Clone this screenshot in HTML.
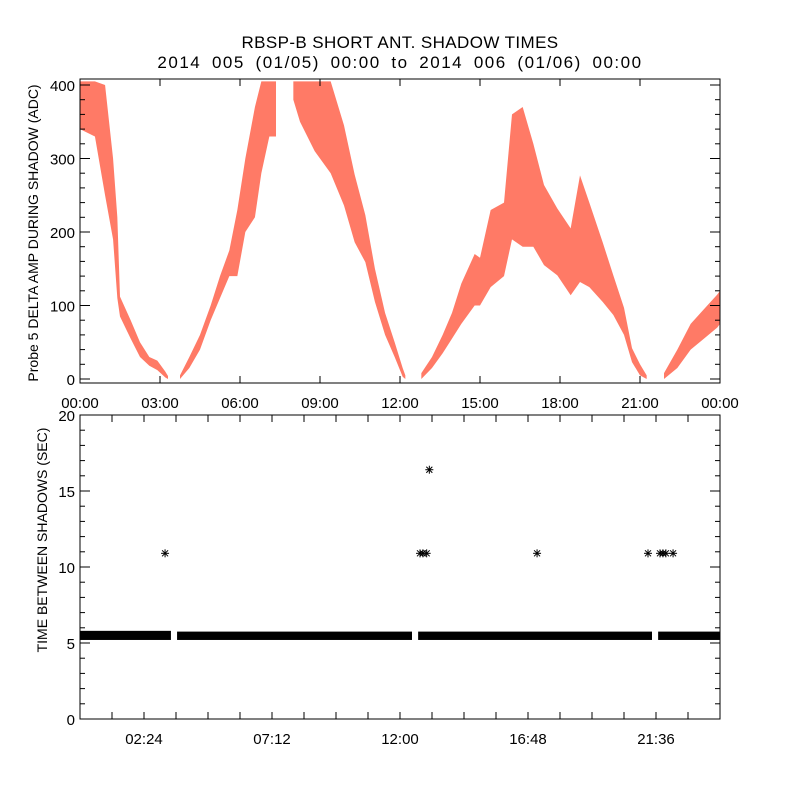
<!DOCTYPE html>
<html><head><meta charset="utf-8"><style>
body{margin:0;background:#fff}
svg{display:block;font-family:"Liberation Sans",sans-serif}
</style></head><body>
<svg id="c" width="800" height="800" xmlns="http://www.w3.org/2000/svg">
<rect width="800" height="800" fill="#fff"/>
<text x="400" y="48" font-size="17" letter-spacing="0.4" text-anchor="middle">RBSP-B SHORT ANT. SHADOW TIMES</text>
<text x="400" y="68" font-size="17" letter-spacing="1.5" word-spacing="4.5" text-anchor="middle">2014 005 (01/05) 00:00 to 2014 006 (01/06) 00:00</text>
<g id="top"></g>
<g id="bot"></g>
</svg>
<script>
// top panel data: bands [hour, low ADC, high ADC]
const band1 = [[0,340,405],[0.56,330,405],[0.94,250,400],[1.24,190,300],[1.4,110,220],[1.5,85,112],[1.9,55,80],[2.25,30,50],[2.6,18,30],[2.9,12,25],[3.2,2,10],[3.3,0,4]];
const band2 = [[3.75,0,5],[4.1,15,30],[4.5,40,60],[4.9,80,100],[5.25,110,140],[5.6,140,175],[5.9,140,230],[6.2,200,300],[6.56,220,370],[6.8,280,405],[7.1,330,405],[7.35,330,405]];
const band3 = [[8.0,380,405],[8.25,350,405],[8.8,310,405],[9.4,280,405],[9.9,236,345],[10.3,186,278],[10.7,159,223],[11.06,105,150],[11.44,60,90],[11.8,30,50],[12.1,3,15],[12.2,0,5]];
const band4 = [[12.8,0,8],[13.2,15,30],[13.6,35,60],[13.95,55,90],[14.3,75,130],[14.8,100,170],[15.0,100,165],[15.4,125,230],[15.9,140,240],[16.2,190,360],[16.6,180,370],[17.0,180,320],[17.4,155,264],[17.9,141,232],[18.4,114,205],[18.75,132,277],[19.1,125,240],[19.6,105,186],[20.0,87,141],[20.4,60,97],[20.7,23,42],[21.0,5,20],[21.25,0,5]];
const band5 = [[21.9,0,8],[22.4,15,40],[22.9,40,75],[23.4,55,95],[23.9,70,115],[24,75,120]];
const topYTicks = [0,100,200,300,400];
const topXLabels = ["00:00","03:00","06:00","09:00","12:00","15:00","18:00","21:00","00:00"];
// bottom panel data
const bandSegments = [[0,3.41],[3.64,12.45],[12.68,21.45],[21.68,24]];
const bandLow = [5.2,5.2,5.2,5.2];
const bandHigh = [5.8,5.75,5.75,5.75];
const starTimes = [3.19,12.75,12.86,13.0,13.1,17.14,21.3,21.75,21.86,21.97,22.24];
const starValues = [10.9,10.9,10.9,10.9,16.4,10.9,10.9,10.9,10.9,10.9,10.9];
const botYTicks = [0,5,10,15,20];
const botXLabels = ["02:24","07:12","12:00","16:48","21:36"];

const NS="http://www.w3.org/2000/svg";
function mk(tag,attrs,parent){const e=document.createElementNS(NS,tag);for(const k in attrs)e.setAttribute(k,attrs[k]);parent.appendChild(e);return e;}
const L=80,R=720;
const xs=h=>L+h*(R-L)/24;
const T0=79,T1=383;
const ty=v=>379-v*0.735;
const topG=document.getElementById('top');
[band1,band2,band3,band4,band5].forEach((b,i)=>{
  const pts=b.map(p=>xs(p[0])+','+ty(p[2])).concat(b.slice().reverse().map(p=>xs(p[0])+','+ty(p[1]))).join(' ');
  const pg=mk('polygon',{points:pts,fill:'#ff2200','fill-opacity':'0.6'},topG);
  
  
});
const tf=mk('rect',{x:L,y:T0,width:R-L,height:T1-T0,fill:'none',stroke:'#000','stroke-width':1},topG);


for(let v=0;v<=400;v+=20){const y=ty(v);const len=v%100===0?10:5;
  mk('line',{x1:L,x2:L+len,y1:y,y2:y,stroke:'#000'},topG);mk('line',{x1:R,x2:R-len,y1:y,y2:y,stroke:'#000'},topG);}
topYTicks.forEach(v=>{const t=mk('text',{x:75,y:ty(v)+6,'font-size':15,'text-anchor':'end'},topG);t.textContent=v;
  
  });
topXLabels.forEach((s,i)=>{const x=xs(i*3);
  mk('line',{x1:x,x2:x,y1:T1,y2:T1-7,stroke:'#000'},topG);mk('line',{x1:x,x2:x,y1:T0,y2:T0+7,stroke:'#000'},topG);
  const t=mk('text',{x:x,y:408,'font-size':15,'text-anchor':'middle'},topG);t.textContent=s;
  
  });
const tyt=mk('text',{x:0,y:0,'font-size':14,'text-anchor':'middle',transform:'translate(38,233) rotate(-90)'},topG);
tyt.textContent='Probe 5 DELTA AMP DURING SHADOW (ADC)';


const B0=415,B1=719;
const by=v=>B1-v*(B1-B0)/20;
const botG=document.getElementById('bot');
bandSegments.forEach((s,i)=>{
  const r=mk('rect',{x:xs(s[0]),y:by(bandHigh[i]),width:xs(s[1])-xs(s[0]),height:by(bandLow[i])-by(bandHigh[i]),fill:'#000'},botG);
  
  
});
starTimes.forEach((h,i)=>{const cx=xs(h),cy=by(starValues[i]);
  const g=mk('g',{stroke:'#000','stroke-width':1},botG);
  
  
  mk('line',{x1:cx-4,x2:cx+4,y1:cy,y2:cy},g);mk('line',{x1:cx,x2:cx,y1:cy-4,y2:cy+4},g);
  mk('line',{x1:cx-3,x2:cx+3,y1:cy-3,y2:cy+3},g);mk('line',{x1:cx-3,x2:cx+3,y1:cy+3,y2:cy-3},g);});
const bf=mk('rect',{x:L,y:B0,width:R-L,height:B1-B0,fill:'none',stroke:'#000'},botG);


for(let v=0;v<=20;v++){const y=by(v);const len=v%5===0?10:5;
  mk('line',{x1:L,x2:L+len,y1:y,y2:y,stroke:'#000'},botG);mk('line',{x1:R,x2:R-len,y1:y,y2:y,stroke:'#000'},botG);}
botYTicks.forEach(v=>{const t=mk('text',{x:75,y:by(v)+6,'font-size':15,'text-anchor':'end'},botG);t.textContent=v;
  
  });
for(let k=1;k<20;k++){const x=xs(k*1.2);
  mk('line',{x1:x,x2:x,y1:B1,y2:B1-7,stroke:'#000'},botG);mk('line',{x1:x,x2:x,y1:B0,y2:B0+7,stroke:'#000'},botG);}
botXLabels.forEach((s,i)=>{const x=xs(2.4+i*4.8);
  const t=mk('text',{x:x,y:744,'font-size':15,'text-anchor':'middle'},botG);t.textContent=s;
  
  });
const byt=mk('text',{x:0,y:0,'font-size':14,'text-anchor':'middle',transform:'translate(47,540) rotate(-90)'},botG);
byt.textContent='TIME BETWEEN SHADOWS (SEC)';


</script>
</body></html>
